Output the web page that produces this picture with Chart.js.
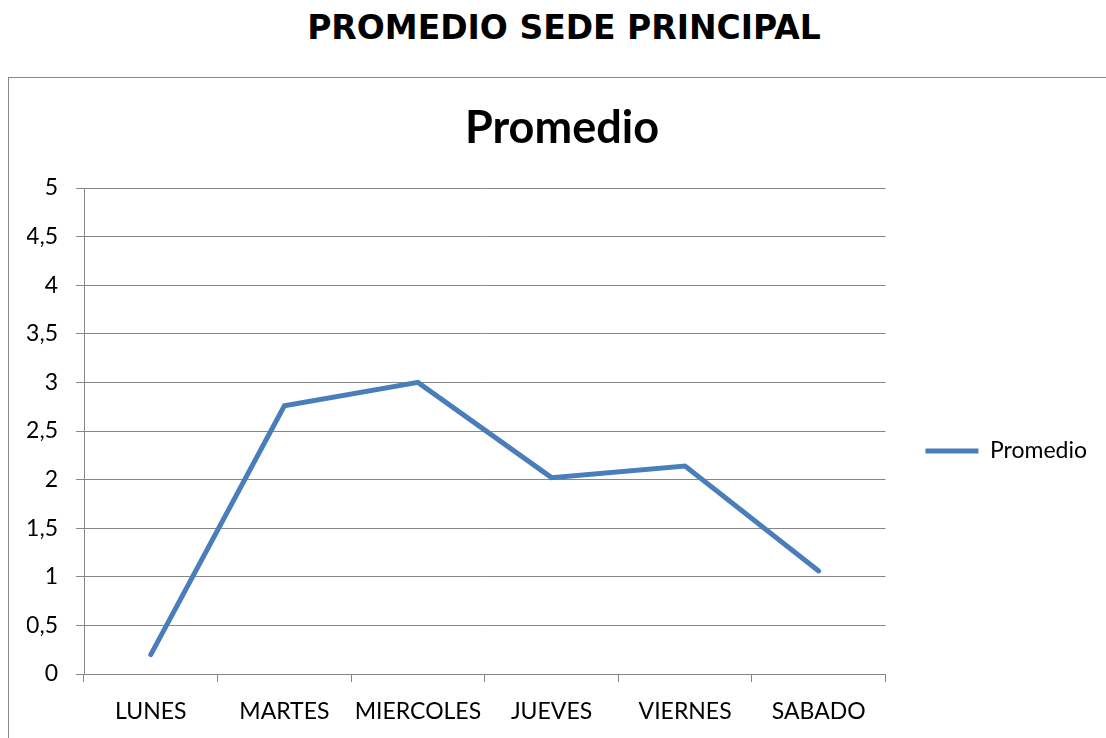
<!DOCTYPE html>
<html lang="es">
<head>
    <meta charset="UTF-8">
    <title>Promedio sede principal</title>
    <script src="https://cdn.jsdelivr.net/npm/chart.js"></script>
    <style>
        body { margin: 0; width: 1106px; height: 738px; overflow: hidden; background: #fff; }
        #heading {
            position: absolute; left: 0; top: 8px; width: 1128px; text-align: center;
            font: bold 33px "DejaVu Sans", Verdana, sans-serif; color: #000;
        }
        #frame {
            position: absolute; left: 8px; top: 77px; width: 1120px; height: 680px;
            border-left: 1px solid #888; border-top: 1px solid #888;
        }
        #wrap { position: absolute; left: 0; top: 0; width: 1088px; height: 660px; }
    </style>
</head>
<body>
    <div id="heading">PROMEDIO SEDE PRINCIPAL</div>
    <div id="frame">
        <div id="wrap"><canvas id="myChart"></canvas></div>
    </div>
    <script>
        const days = ['LUNES', 'MARTES', 'MIERCOLES', 'JUEVES', 'VIERNES', 'SABADO'];
        const promedio = [0.2, 2.76, 3.0, 2.02, 2.14, 1.06];

        const font = 'Lato, "Open Sans", sans-serif';
        const gridColor = '#868686';

        // push the legend down a bit, it sits a little below the middle of the plot
        const legendShift = {
            id: 'legendShift',
            afterLayout(chart) {
                chart.legend.top += 43;
                chart.legend.bottom += 43;
            }
        };

        const ctx = document.getElementById('myChart').getContext('2d');
        const myChart = new Chart(ctx, {
            type: 'line',
            data: {
                labels: days,
                datasets: [{
                    label: 'Promedio',
                    data: promedio,
                    borderColor: '#4a7ebb',
                    backgroundColor: '#4a7ebb',
                    borderWidth: 5,
                    borderCapStyle: 'round',
                    borderJoinStyle: 'miter',
                    pointRadius: 0,
                    tension: 0
                }]
            },
            options: {
                responsive: true,
                maintainAspectRatio: false,
                animation: false,
                layout: { padding: { top: 0, right: 0, bottom: 0, left: 18 } },
                scales: {
                    x: {
                        offset: true,
                        grid: { display: true, drawOnChartArea: false, drawTicks: true, tickLength: 8, color: gridColor, offset: true },
                        border: { color: gridColor, width: 1 },
                        ticks: { color: '#000', font: { family: font, size: 23 }, padding: 16, maxRotation: 0 },
                        afterFit: function(scale) { scale.height = 64; }
                    },
                    y: {
                        min: 0,
                        max: 5,
                        grid: { color: gridColor, tickLength: 8 },
                        border: { color: gridColor, width: 1 },
                        ticks: {
                            stepSize: 0.5,
                            color: '#000',
                            font: { family: font, size: 23 },
                            padding: 18,
                            callback: function(value) {
                                return String(value).replace('.', ',');
                            }
                        },
                        afterFit: function(scale) { scale.width = 57; }
                    }
                },
                plugins: {
                    title: {
                        display: true,
                        text: 'Promedio',
                        color: '#000',
                        font: { family: font, size: 45, weight: 'bold' },
                        padding: { top: 23, bottom: 33 }
                    },
                    legend: {
                        position: 'right',
                        labels: {
                            color: '#000',
                            font: { family: font, size: 23 },
                            boxWidth: 53,
                            boxHeight: 5,
                            padding: 40,
                            generateLabels: function(chart) {
                                return [{
                                    text: 'Promedio',
                                    fillStyle: '#4a7ebb',
                                    strokeStyle: '#4a7ebb',
                                    lineWidth: 0,
                                    fontColor: '#000'
                                }];
                            }
                        }
                    },
                    tooltip: { enabled: false }
                }
            },
            plugins: [legendShift]
        });
    </script>
</body>
</html>
